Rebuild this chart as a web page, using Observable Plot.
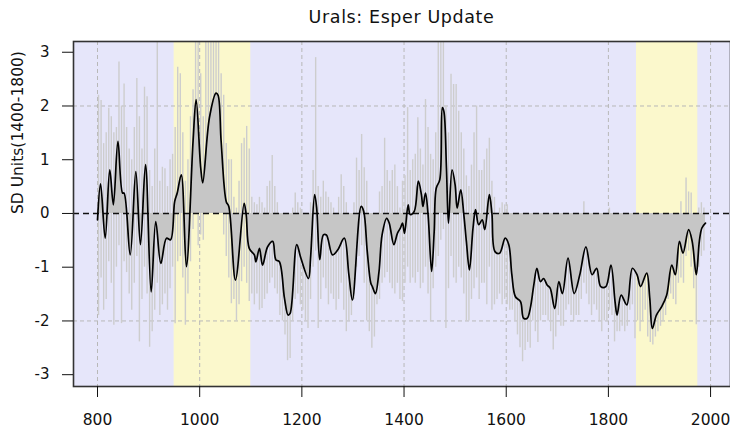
<!DOCTYPE html>
<html>
<head>
<meta charset="utf-8">
<script src="https://cdn.jsdelivr.net/npm/d3@7"></script>
<script src="https://cdn.jsdelivr.net/npm/@observablehq/plot@0.6"></script>
<style>
  html, body { margin: 0; padding: 0; background: #ffffff; }
  #wrap { width: 730px; height: 432px; position: relative; overflow: hidden; }
  #title { height: 32px; line-height: 34px; padding-left: 73px; text-align: center;
           font-family: "DejaVu Sans", sans-serif; font-size: 17.5px; letter-spacing: 0.6px; color: #111; }
</style>
</head>
<body>
<div id="wrap">
  <div id="title"></div>
  <div id="chart"></div>
</div>
<script>
// ---- data ----
const titleText = "Urals: Esper Update";
const yLabel = "SD Units(1400-1800)";
const xTicks = [800, 1000, 1200, 1400, 1600, 1800, 2000];
const yTicks = [-3, -2, -1, 0, 1, 2, 3];
const gridY = [-2, 2];
const bandStart = [950, 1855];
const bandEnd = [1100, 1975];

// smoothed series (turning points)
const smoothYears = [800,806,815,824,831,840,849,852,864,875,884,894,905,914,924,935,943,951,956,964,974,987,993,1002,1006,1019,1032,1036,1042,1052,1057,1070,1087,1091,1097,1107,1110,1117,1123,1133,1143,1149,1156,1166,1173,1177,1190,1198,1213,1217,1225,1229,1235,1242,1248,1260,1270,1283,1292,1299,1316,1321,1328,1335,1338,1344,1351,1357,1366,1371,1380,1387,1393,1397,1401,1408,1412,1420,1428,1434,1437,1442,1447,1454,1459,1463,1470,1475,1478,1483,1487,1494,1500,1504,1511,1517,1522,1528,1535,1540,1546,1553,1558,1567,1572,1578,1587,1598,1605,1611,1618,1628,1634,1641,1647,1654,1660,1667,1673,1680,1686,1695,1703,1710,1721,1733,1744,1756,1768,1777,1785,1795,1805,1813,1817,1825,1836,1847,1856,1863,1875,1881,1886,1894,1904,1914,1924,1931,1939,1946,1957,1964,1972,1978,1983,1990];
const smoothValues = [-0.12,0.55,-0.46,0.81,0.16,1.34,0.38,0.38,-0.77,0.78,-0.58,0.91,-1.46,-0.15,-0.93,-0.46,-0.49,0.22,0.38,0.72,-0.99,1.34,2.12,0.85,0.57,1.78,2.24,2.2,1.34,0.22,0.13,-1.24,0.19,-0.02,-0.65,-0.77,-0.9,-0.65,-0.96,-0.62,-0.52,-0.86,-0.9,-1.58,-1.89,-1.86,-0.58,-0.83,-1.21,-0.83,0.35,0.1,-0.86,-0.4,-0.4,-0.77,-0.68,-0.46,-1.14,-1.61,0.13,0.04,-0.71,-1.3,-1.36,-1.49,-1.08,-0.4,-0.09,-0.18,-0.58,-0.37,-0.27,-0.18,-0.37,0.16,-0.02,0.04,0.6,0.35,0.13,0.38,-0.02,-1.08,-0.34,0.47,0.63,1.97,1.9,0.85,-0.18,0.81,0.53,0.1,0.44,-0.02,-0.52,-1.05,-0.27,0.07,-0.21,-0.12,-0.3,0.35,0.0,-0.71,-0.74,-0.46,-0.58,-1.14,-1.55,-1.64,-1.95,-1.95,-1.77,-1.33,-1.02,-1.27,-1.21,-1.33,-1.39,-1.77,-1.27,-1.49,-0.83,-1.49,-1.14,-0.62,-1.14,-1.02,-1.36,-1.36,-0.96,-1.64,-1.89,-1.52,-1.7,-1.02,-1.14,-1.36,-1.11,-1.58,-2.14,-1.89,-1.74,-1.52,-0.96,-1.14,-0.52,-0.74,-0.3,-0.52,-1.14,-0.52,-0.27,-0.18];

// annual series: highest and lowest annual value in each 5-year span, 800-1989
const annualFirstYear = 800;
const annualStep = 5;
const annualHi = [
 2.2,2.1, 1.3,1.5, 1.96,1.8, 1.5,1.6, 2.82,2.0, 2.41,1.6, 1.2,1.0, 1.6,2.51, 1.8,1.2, 2.35,2.17,
 0.8,0.5, 1.2,3.3, 0.6,0.86, 0.83,0.5, 1.0,1.1, 1.6,2.72, 2.6,1.5, 0.6,1.0, 1.8,2.3, 3.3,3.2,
 2.6,1.8, 3.3,3.3, 3.3,3.2, 3.3,3.2, 2.6,2.2, 1.3,1.0, 1.0,0.3, 0.1,0.6, 1.3,1.4, 1.62,1.2,
 0.3,0.2, 0.16,0.3, 0.2,0.1, 0.5,0.6, 1.08,0.5, 0.2,0.0, -0.2,-0.5, -0.7,-0.6, 0.1,0.38, 0.2,0.1,
 0.0,-0.2, -0.3,0.2, 0.8,2.9, 0.5,0.3, 0.6,0.4, 0.3,0.2, 0.1,0.0, 0.3,0.72, 0.5,0.2, -0.3,-0.6,
 0.2,1.03, 0.8,1.47, 0.85,0.6, -0.1,-0.3, -0.4,-0.2, 0.4,0.5, 1.4,0.8, 0.6,0.8, 0.9,0.5, 0.1,0.6,
 0.7,1.97, 0.8,1.0, 1.1,1.78, 1.2,0.9, 2.12,1.6, 1.1,1.0, 1.5,3.3, 3.3,3.3, 2.0,1.5, 2.59,2.4,
 2.4,1.9, 1.5,1.2, 0.7,0.5, 0.9,1.5, 2.0,0.8, 0.8,1.0, 1.2,1.4, 0.6,0.3, 0.0,0.1, 0.2,0.16,
 0.16,0.0, -0.3,-0.6, -0.8,-0.9, -1.0,-1.2, -1.0,-0.9, -0.5,-0.3, -0.4,-0.5, -0.6,-0.5, -0.7,-0.6, -0.9,-0.9,
 -0.7,-0.8, -0.7,-0.4, -0.2,-0.5, -0.7,-0.6, -0.5,-0.3, 0.22,-0.1, -0.3,-0.5, -0.5,-0.5, -0.6,-0.8, -0.7,-0.4,
 0.1,-0.3, -0.9,-1.1, -1.0,-0.9, -1.0,-1.0, -0.6,-0.5, -0.6,-0.7, -0.8,-0.7, -0.6,-0.7, -1.1,-1.4, -1.2,-1.1,
 -1.0,-0.9, -0.8,-0.5, -0.3,-0.4, -0.5,0.0, 0.22,-0.1, 0.66,0.4, 0.38,-0.2, -0.3,0.1, 0.2,0.1
];
const annualLo = [
 -1.9,-1.2, -1.8,-1.6, -0.9,-1.3, -2.08,-1.0, -0.6,-2.05, -0.9,-1.1, -1.5,-1.8, -1.3,-0.8, -2.39,-1.6, -1.0,-1.5,
 -2.49,-2.2, -1.8,-1.3, -1.9,-1.7, -1.5,-1.8, -1.4,-1.0, -2.05,-0.9, -0.8,-1.2, -2.08,-1.5, -0.9,-0.3, 0.2,-0.6,
 -0.4,-0.5, 0.1,0.3, 0.4,0.8, 0.6,0.5, 0.3,-0.4, -0.8,-1.2, -1.68,-1.6, -2.0,-1.7, -1.27,-1.0, -1.3,-1.64,
 -1.5,-1.7, -1.5,-1.8, -1.77,-1.6, -1.5,-1.3, -1.2,-1.4, -1.5,-1.9, -2.0,-2.26, -2.74,-2.7, -2.0,-1.6, -1.5,-1.7,
 -1.8,-2.0, -2.14,-1.6, -1.0,-0.7, -2.14,-1.6, -1.2,-1.4, -1.7,-1.5, -1.6,-1.8, -1.6,-1.3, -1.8,-2.2, -2.0,-1.9,
 -1.6,-1.0, -0.8,-0.6, -1.3,-2.0, -2.2,-2.51, -2.3,-1.7, -1.6,-1.3, -1.2,-1.1, -1.3,-1.4, -1.5,-1.3, -1.6,-1.64,
 -1.3,-1.0, -1.3,-1.2, -1.3,-1.1, -1.4,-1.3, -1.0,-1.5, -2.01,-1.4, -1.0,-0.8, -0.5,-0.3, -2.14,-1.4, -0.8,-1.2,
 -1.3,-1.0, -1.2,-1.5, -2.01,-2.0, -1.6,-1.4, -1.2,-1.6, -1.3,-1.3, -1.7,-1.0, -1.8,-1.7, -1.6,-1.5, -1.7,-1.6,
 -1.7,-1.8, -1.8,-2.0, -2.26,-2.5, -2.76,-2.55, -2.4,-2.51, -2.0,-2.2, -2.4,-2.0, -1.9,-1.9, -2.0,-2.2, -2.54,-2.3,
 -1.9,-2.1, -2.1,-1.8, -1.7,-1.9, -2.0,-1.9, -1.9,-1.6, -1.3,-1.5, -1.7,-1.9, -1.7,-1.8, -2.0,-2.2, -2.0,-2.0,
 -1.8,-1.9, -2.39,-2.2, -2.2,-2.1, -2.2,-2.1, -1.8,-1.7, -2.33,-2.0, -2.2,-2.0, -1.8,-2.3, -2.4,-2.45, -2.3,-2.2,
 -2.1,-2.0, -1.9,-1.6, -1.5,-1.6, -1.7,-1.3, -1.2,-1.3, -0.8,-0.7, -1.0,-1.4, -2.07,-1.0, -0.8,-0.7
];

// ---- build tables ----
const smooth = smoothYears.map((x, i) => ({year: x, value: smoothValues[i]}));
const annual = annualHi.map((h, i) => ({year: annualFirstYear + annualStep * i + 2, hi: h, lo: annualLo[i]}));
const bands = bandStart.map((s, i) => ({start: s, end: bandEnd[i]}));

document.getElementById("title").textContent = titleText;

const font = "DejaVu Sans, sans-serif";
const chart = Plot.plot({
  width: 730,
  height: 400,
  marginTop: 9,
  marginBottom: 46,
  marginLeft: 73,
  marginRight: 0,
  style: {fontFamily: font, fontSize: "15px", color: "#111", background: "#fff"},
  x: {domain: [753, 2039]},
  y: {domain: [-3.22, 3.2]},
  marks: [
    Plot.frame({fill: "#e6e6fa", stroke: null}),
    Plot.rect(bands, {x1: "start", x2: "end", fill: "#fbf8cc"}),
    Plot.ruleX(xTicks, {stroke: "#b8b8b8", strokeDasharray: "4,3", strokeWidth: 1}),
    Plot.ruleY(gridY, {stroke: "#b8b8b8", strokeDasharray: "4,3", strokeWidth: 1}),
    Plot.ruleX(annual, {x: "year", y1: "lo", y2: "hi", stroke: "#cdcdcd", strokeWidth: 1.4, clip: true}),
    Plot.areaY(smooth, {x: "year", y1: 0, y2: "value", fill: "#c6c6c6", curve: "catmull-rom"}),
    Plot.ruleY([0], {stroke: "#111", strokeDasharray: "6,4", strokeWidth: 1.6}),
    Plot.line(smooth, {x: "year", y: "value", stroke: "#000", strokeWidth: 1.7, curve: "catmull-rom"}),
    Plot.frame({stroke: "#333", strokeWidth: 1.6}),
    // tick marks
    Plot.axisX({ticks: xTicks, tickSize: 11, tickFormat: () => "", label: null}),
    Plot.axisY({ticks: yTicks, tickSize: 11, tickFormat: () => "", label: null}),
    // tick labels
    Plot.text(xTicks, {x: d => d, frameAnchor: "bottom", dy: 34, text: d => String(d),
                       fontSize: 15.5, fill: "#111", lineAnchor: "middle"}),
    Plot.text(yTicks, {y: d => d, frameAnchor: "left", dx: -24, text: d => String(d),
                       fontSize: 15, fill: "#111", textAnchor: "end"}),
    // y axis title
    Plot.text([yLabel], {frameAnchor: "left", dx: -55, rotate: -90, text: d => d,
                         fontSize: 15.5, fill: "#111"})
  ]
});
document.getElementById("chart").appendChild(chart);
</script>
</body>
</html>
